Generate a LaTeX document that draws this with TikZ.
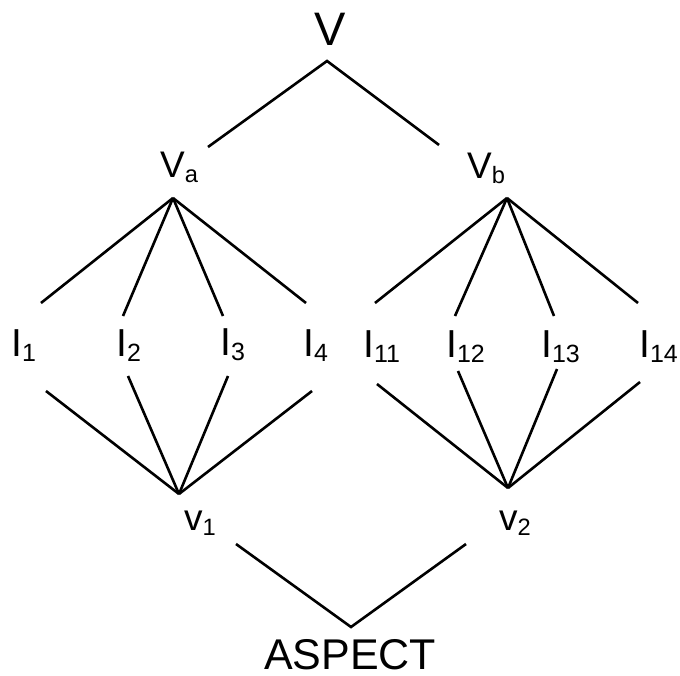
\documentclass[tikz,border=0pt]{standalone}
\usepackage{fontspec}
\setmainfont{Liberation Sans}
\usepackage{graphicx}
\usetikzlibrary{positioning,calc}
\newcommand{\lowidx}[1]{\raisebox{-0.15em}{\scalebox{0.64}{#1}}}

\begin{document}
\begin{tikzpicture}[x=1pt,y=-1pt,
  lbl/.style={inner sep=0pt,anchor=base west},
  big/.style={lbl,font=\fontsize{47}{50}\selectfont},
  mid/.style={lbl,font=\fontsize{37}{40}\selectfont},
  leaf/.style={lbl,font=\fontsize{39}{42}\selectfont},
  ln/.style={line width=2.6pt}]
\useasboundingbox (0,0) rectangle (680,675);
% labels
\node[big] (V) at (314,45) {V};
\node[mid] (Va) at (160,177) {V\lowidx{a}};
\node[mid] (Vb) at (467,178) {V\lowidx{b}};
\node[leaf] (I1) at (11,356) {I\lowidx{1}};
\node[leaf] (I2) at (116,356) {I\lowidx{2}};
\node[leaf] (I3) at (220,355) {I\lowidx{3}};
\node[leaf] (I4) at (303,356) {I\lowidx{4}};
\node[leaf] (I11) at (363,357) {I\lowidx{11}};
\node[leaf] (I12) at (446,357) {I\lowidx{12}};
\node[leaf] (I13) at (541,357) {I\lowidx{13}};
\node[leaf] (I14) at (639,357) {I\lowidx{14}};
\node[mid] (v1) at (184,530) {v\lowidx{1}};
\node[mid] (v2) at (499,530) {v\lowidx{2}};
\node[lbl,font=\fontsize{43}{46}\selectfont] (aspect) at (264,669) {ASPECT};
% line ends
\coordinate (V-out) at (327,61);
\coordinate (Va-in) at (208,147);
\coordinate (Vb-in) at (439,145);
\coordinate (Va-out) at (173,198);
\coordinate (Vb-out) at (507,198);
\coordinate (I1-in) at (41,303);   \coordinate (I1-out) at (46,391);
\coordinate (I2-in) at (123,316);  \coordinate (I2-out) at (128,376);
\coordinate (I3-in) at (223,316);  \coordinate (I3-out) at (228,376);
\coordinate (I4-in) at (306,303);  \coordinate (I4-out) at (312,391);
\coordinate (I11-in) at (375,303); \coordinate (I11-out) at (377,384);
\coordinate (I12-in) at (455,316); \coordinate (I12-out) at (458,371);
\coordinate (I13-in) at (554,316); \coordinate (I13-out) at (557,369);
\coordinate (I14-in) at (638,303); \coordinate (I14-out) at (640,382);
\coordinate (v1-in) at (179,494);  \coordinate (v1-out) at (236,544);
\coordinate (v2-in) at (508,488);  \coordinate (v2-out) at (466,544);
\coordinate (aspect-in) at (351,627);
% connectors
\draw[ln] (Va-in) -- (V-out) -- (Vb-in);
\foreach \n in {1,2,3,4}{\draw[ln] (Va-out) -- (I\n-in);\draw[ln] (I\n-out) -- (v1-in);}
\foreach \n in {11,12,13,14}{\draw[ln] (Vb-out) -- (I\n-in);\draw[ln] (I\n-out) -- (v2-in);}
\draw[ln] (v1-out) -- (aspect-in) -- (v2-out);
\end{tikzpicture}
\end{document}
